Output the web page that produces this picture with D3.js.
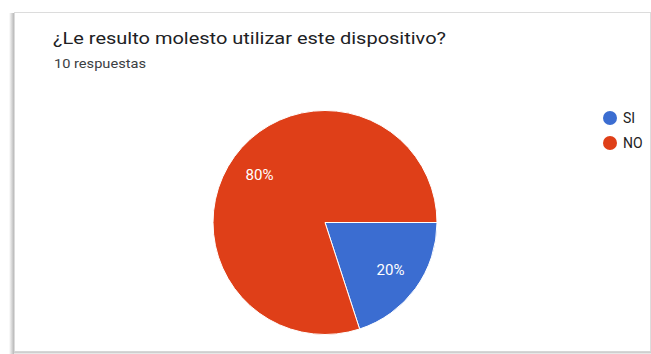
<!DOCTYPE html>
<html>
<head>
<meta charset="utf-8">
<script src="https://cdn.jsdelivr.net/npm/d3@7"></script>
<style>
  html, body { margin: 0; padding: 0; background: #ffffff; }
  svg { display: block; }
</style>
</head>
<body>
<svg id="chart" width="651" height="354"></svg>
<script>
// Survey answers and their response shares
const categories = ["SI", "NO"];
const shares = [20, 80];
const colors = ["#3b6dd1", "#df3f18"];
const titleText = "¿Le resulto molesto utilizar este dispositivo?";
const subtitleText = "10 respuestas";

const svg = d3.select("#chart");
const W = 651, H = 354;

// card with soft left shadow
const defs = svg.append("defs");
const grad = defs.append("linearGradient").attr("id", "shadowL").attr("x1", 0).attr("x2", 1);
grad.append("stop").attr("offset", 0).attr("stop-color", "#ffffff");
grad.append("stop").attr("offset", 1).attr("stop-color", "#b8b8b8");
svg.append("rect").attr("x", 9).attr("y", 13).attr("width", 5).attr("height", H - 13).attr("fill", "url(#shadowL)");
svg.append("rect")
  .attr("x", 14.5).attr("y", 12.5)
  .attr("width", W - 15).attr("height", 339)
  .attr("fill", "#ffffff")
  .attr("stroke", "#dcdcdc").attr("stroke-width", 1);
svg.append("line").attr("x1", 14).attr("x2", W).attr("y1", 352.5).attr("y2", 352.5)
  .attr("stroke", "#cfcfcf").attr("stroke-width", 2);

// title and response count (wide rendering of the heading font)
svg.append("text")
  .attr("x", 53).attr("y", 44)
  .attr("font-family", "Roboto, Arial, sans-serif")
  .attr("font-size", 16.8)
  .attr("fill", "#202124")
  .attr("textLength", 393)
  .attr("lengthAdjust", "spacingAndGlyphs")
  .text(titleText);
svg.append("text")
  .attr("x", 54).attr("y", 68)
  .attr("font-family", "Roboto, Arial, sans-serif")
  .attr("font-size", 13)
  .attr("fill", "#3c4043")
  .attr("textLength", 92)
  .attr("lengthAdjust", "spacingAndGlyphs")
  .text(subtitleText);

// pie
const cx = 325, cy = 222.5, r = 112;
const data = categories.map((c, i) => ({ cat: c, value: shares[i], color: colors[i] }));
const pie = d3.pie().value(d => d.value).sort(null)
  .startAngle(Math.PI / 2).endAngle(Math.PI / 2 + 2 * Math.PI);
const arc = d3.arc().innerRadius(0).outerRadius(r);
const labelArc = d3.arc().innerRadius(81).outerRadius(81);
const total = d3.sum(shares);

const g = svg.append("g").attr("transform", `translate(${cx},${cy})`);
const arcs = pie(data);
g.selectAll("path.slice").data(arcs).join("path")
  .attr("class", "slice")
  .attr("d", arc)
  .attr("fill", d => d.data.color)
  .attr("stroke", "#ffffff").attr("stroke-width", 1);
g.selectAll("text.pct").data(arcs).join("text")
  .attr("class", "pct")
  .attr("transform", d => `translate(${labelArc.centroid(d)})`)
  .attr("text-anchor", "middle")
  .attr("dy", "0.35em")
  .attr("font-family", "Roboto, Arial, sans-serif")
  .attr("font-size", 14.5)
  .attr("fill", "#ffffff")
  .attr("textLength", 28)
  .attr("lengthAdjust", "spacingAndGlyphs")
  .text(d => Math.round(d.data.value / total * 100) + "%");

// legend
const legend = svg.append("g").attr("transform", "translate(610,118)");
const items = legend.selectAll("g").data(data).join("g")
  .attr("transform", (d, i) => `translate(0,${i * 25})`);
items.append("circle").attr("r", 7).attr("fill", d => d.color);
items.append("text")
  .attr("x", 13).attr("dy", "0.36em")
  .attr("font-family", "Roboto, Arial, sans-serif")
  .attr("font-size", 14)
  .attr("fill", "#222222")
  .text(d => d.cat);
</script>
</body>
</html>
